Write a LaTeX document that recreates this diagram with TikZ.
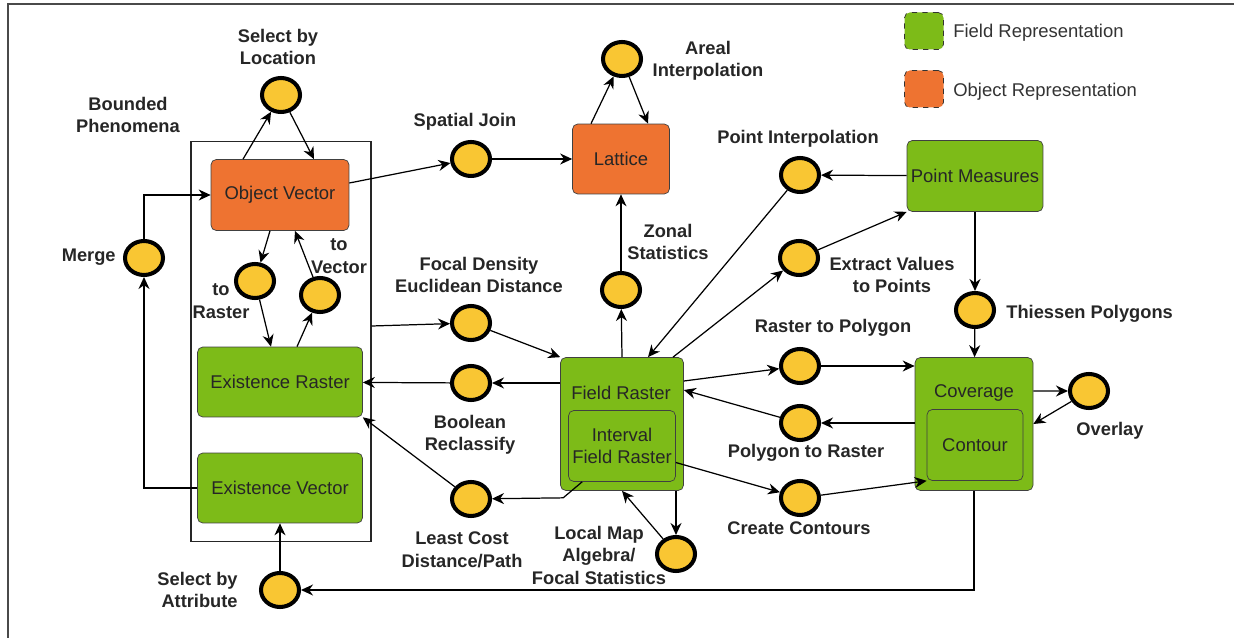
\documentclass[tikz,border=0pt]{standalone}
\usepackage{fontspec}
\setmainfont{Liberation Sans}
\usepackage{xcolor}
\usepackage{tikz}
\usetikzlibrary{positioning, arrows.meta, shapes.geometric}
\definecolor{fieldgreen}{HTML}{7DBB18}
\definecolor{objorange}{HTML}{EE7331}
\definecolor{opyellow}{HTML}{F9C633}
\definecolor{framegray}{HTML}{4A4A4A}
\newcommand{\lblfont}{\fontsize{10.4}{12.8}\selectfont\bfseries}
\newcommand{\boxfont}{\fontsize{10.5}{12.8}\selectfont}

\begin{document}
\begin{tikzpicture}[
        x=0.02cm, y=-0.02cm,
        obj/.style={rectangle, draw=black!75, rounded corners=3pt, fill=objorange, inner sep=1pt, font=\boxfont, text=black!85, align=center},
        fld/.style={rectangle, draw=black!75, rounded corners=3pt, fill=fieldgreen, inner sep=1pt, font=\boxfont, text=black!85, align=center},
        op/.style={ellipse, draw=black, line width=2.3pt, fill=opyellow, minimum width=0.76cm, minimum height=0.68cm, inner sep=0pt},
        lbl/.style={font=\lblfont, text=black!85, align=center, inner sep=0pt},
        legbox/.style={rectangle, draw=black!80, dashed, rounded corners=3pt, minimum width=0.78cm, minimum height=0.74cm},
        arr/.style={-{Stealth[length=2.4mm, width=2.2mm]}, line width=0.7pt}
    ]
        \useasboundingbox (0,0) rectangle (1234,638);
        \draw[framegray, line width=0.9pt] (8,638) -- (8,4) -- (1234,4);

        % Legend
        \node[legbox, fill=fieldgreen] (legfld) at (924,31) {};
        \node[anchor=west, font=\boxfont, text=black!80, inner sep=0pt] (legfldtxt) at (953,33) {Field Representation};
        \node[legbox, fill=objorange] (legobj) at (924,89) {};
        \node[anchor=west, font=\boxfont, text=black!80, inner sep=0pt] (legobjtxt) at (953,92) {Object Representation};

        % Bounded phenomena
        \node[draw=black!85, line width=0.6pt, minimum width=3.6cm, minimum height=8.02cm] (bnd) at (281,341.5) {};
        \node[obj, minimum width=2.76cm, minimum height=1.42cm] (ov) at (280,195) {Object Vector};
        \node[fld, minimum width=3.3cm, minimum height=1.4cm] (er) at (280,382) {Existence Raster};
        \node[fld, minimum width=3.3cm, minimum height=1.4cm] (ev) at (280,488) {Existence Vector};

        % Other representations
        \node[obj, minimum width=1.94cm, minimum height=1.4cm] (lat) at (621,159) {Lattice};
        \node[fld, minimum width=2.72cm, minimum height=1.42cm] (pm) at (975,176) {Point Measures};
        \node[fld, minimum width=2.46cm, minimum height=2.66cm] (fr) at (622,424) {};
        \node[font=\boxfont, text=black!85, inner sep=0pt] (frtxt) at (621,393) {Field Raster};
        \node[fld, minimum width=2.14cm, minimum height=1.42cm] (ifr) at (622,446) {Interval\\Field Raster};
        \node[fld, minimum width=2.36cm, minimum height=2.66cm] (cov) at (974,424) {};
        \node[font=\boxfont, text=black!85, inner sep=0pt] (covtxt) at (974,393) {Coverage};
        \node[fld, minimum width=1.92cm, minimum height=1.42cm] (con) at (975,445) {Contour};

        % Operations
        \node[op] (sbl) at (281,95) {};
        \node[op] (mrg) at (144,258) {};
        \node[op] (tor) at (255,281) {};
        \node[op] (tov) at (320,295) {};
        \node[op] (sba) at (280,590) {};
        \node[op] (sj) at (471,159) {};
        \node[op] (areal) at (622,59) {};
        \node[op] (zon) at (621,290) {};
        \node[op] (fde) at (471,323) {};
        \node[op] (bool) at (471,383) {};
        \node[op] (lc) at (471,499) {};
        \node[op] (lm) at (676,554) {};
        \node[op] (pi) at (800,175) {};
        \node[op] (ext) at (799,258) {};
        \node[op] (thi) at (975,310) {};
        \node[op] (r2p) at (800,366) {};
        \node[op] (p2r) at (800,423) {};
        \node[op] (cc) at (800,498) {};
        \node[op] (ovl) at (1089,391) {};

        % Labels
        \node[lbl] (bndlbl) at (128,115) {Bounded\\Phenomena};
        \node[lbl] (sbllbl) at (278,47) {Select by\\Location};
        \node[lbl, anchor=east] (mrglbl) at (116,257) {Merge};
        \node[lbl] (torlbl) at (221,301) {to\\Raster};
        \node[lbl] (tovlbl) at (339,256) {to\\Vector};
        \node[lbl, anchor=east, align=right] (sbalbl) at (238,590) {Select by\\Attribute};
        \node[lbl] (sjlbl) at (465,122) {Spatial Join};
        \node[lbl] (areallbl) at (708,61) {Areal\\Interpolation};
        \node[lbl] (zonlbl) at (668,242) {Zonal\\Statistics};
        \node[lbl] (fdelbl) at (479,275) {Focal Density\\Euclidean Distance};
        \node[lbl] (boollbl) at (470,435) {Boolean\\Reclassify};
        \node[lbl] (lclbl) at (462,550) {Least Cost\\Distance/Path};
        \node[lbl] (lmlbl) at (599,555) {Local Map\\Algebra/\\Focal Statistics};
        \node[lbl] (pilbl) at (798,139) {Point Interpolation};
        \node[lbl] (extlbl) at (892,275) {Extract Values\\to Points};
        \node[lbl, anchor=west] (thilbl) at (1006,314) {Thiessen Polygons};
        \node[lbl] (r2plbl) at (833,328) {Raster to Polygon};
        \node[lbl] (p2rlbl) at (806,453) {Polygon to Raster};
        \node[lbl] (cclbl) at (799,528) {Create Contours};
        \node[lbl] (ovllbl) at (1110,431) {Overlay};

        % Arrows: inside bounded phenomena
        \draw[arr] ([xshift=-0.74cm]ov.north) -- (sbl);
        \draw[arr] (sbl) -- ([xshift=0.68cm]ov.north);
        \draw[arr] ([xshift=-0.2cm]ov.south) -- (tor);
        \draw[arr] (tor) -- ([xshift=-0.18cm]er.north);
        \draw[arr] ([xshift=0.34cm]er.north) -- (tov);
        \draw[arr] (tov) -- ([xshift=0.3cm]ov.south);
        \draw[arr] (ev.west) -| (mrg);
        \draw[arr] (mrg) |- (ov.west);
        \draw[arr] (sba) -- (ev);

        % Arrows: lattice
        \draw[arr] ([yshift=0.24cm]ov.east) -- (sj);
        \draw[arr] (sj) -- (lat);
        \draw[arr] ([xshift=-0.6cm]lat.north) -- (areal);
        \draw[arr] (areal) -- ([xshift=0.54cm]lat.north);
        \draw[arr] (zon) -- (lat);

        % Arrows: field raster
        \draw[arr] ([yshift=0.31cm]bnd.east) -- (fde);
        \draw[arr] (fde) -- (fr.north west);
        \draw[arr] (fr.north) -- (zon);
        \draw[arr] (fr.west |- bool) -- (bool);
        \draw[arr] (bool) -- (er);
        \draw[arr] ([xshift=0.28cm]ifr.south west) -- ++(-0.38cm,-0.32cm) -- (lc);
        \draw[arr] (lc) -- (er.south east);
        \draw[arr] (fr.south -| lm) -- (lm);
        \draw[arr] (lm) -- (fr.south);

        % Arrows: point measures
        \draw[arr] (pm) -- (pi);
        \draw[arr] (pi) -- ([xshift=0.52cm]fr.north);
        \draw[arr] ([xshift=1.02cm]fr.north) -- (ext);
        \draw[arr] (ext) -- (pm.south west);
        \draw[arr] (pm) -- (thi);
        \draw[arr] (thi) -- (cov);

        % Arrows: coverage
        \draw[arr] ([yshift=0.86cm]fr.east) -- (r2p);
        \draw[arr] (r2p) -- (cov.west |- r2p);
        \draw[arr] (cov.west |- p2r) -- (p2r);
        \draw[arr] (p2r) -- ([yshift=0.68cm]fr.east);
        \draw[arr] ([yshift=-0.33cm]ifr.east) -- (cc);
        \draw[arr] (cc) -- (con.south west);
        \draw[arr] ([yshift=0.66cm]cov.east) -- (ovl);
        \draw[arr] (ovl) -- (cov.east);
        \draw[arr] (cov.south) |- (sba);
    \end{tikzpicture}
\end{document}
